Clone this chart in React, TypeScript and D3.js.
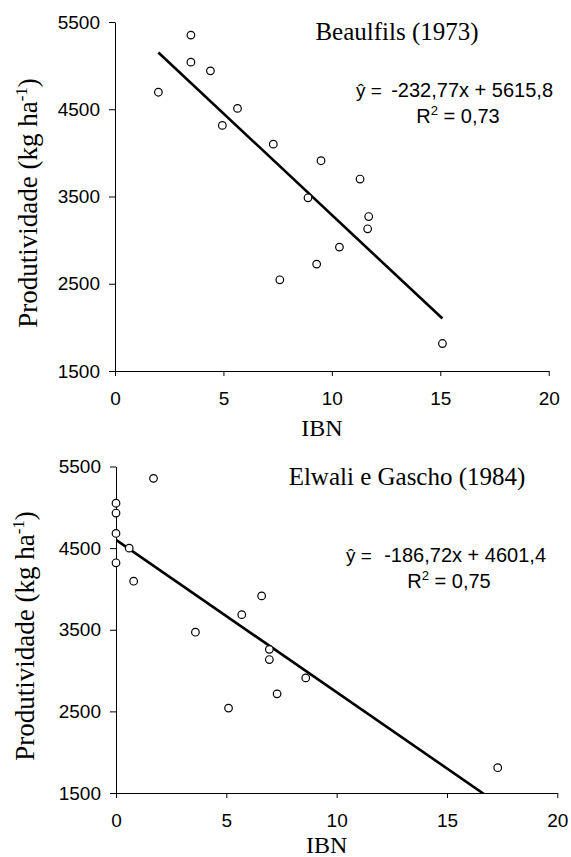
import React, { useEffect, useRef } from 'react';
import * as d3 from 'd3';

// Beaulfils (1973)
const ibnBeaufils = [2.0, 3.5, 3.5, 4.4, 4.95, 5.65, 7.3, 7.6, 8.9, 9.3, 9.5, 10.35, 11.3, 11.65, 11.7, 15.1];
const prodBeaufils = [4695, 5350, 5040, 4940, 4315, 4510, 4100, 2545, 3485, 2725, 3910, 2920, 3700, 3130, 3270, 1815];

// Elwali e Gascho (1984)
const ibnElwali = [0, 0, 0, 0, 0.6, 0.8, 1.7, 3.6, 5.1, 5.7, 6.6, 6.95, 6.95, 7.3, 8.6, 17.3];
const prodElwali = [5050, 4930, 4680, 4320, 4500, 4095, 5355, 3470, 2540, 3685, 3915, 3260, 3135, 2715, 2910, 1810];

const panelTitles = ['Beaulfils (1973)', 'Elwali e Gascho (1984)'];
const slopes = [-232.77, -186.72];
const intercepts = [5615.8, 4601.4];
const eqnLabels = ['-232,77x + 5615,8', '-186,72x + 4601,4'];
const r2Labels = ['0,73', '0,75'];

const xTicks = [0, 5, 10, 15, 20];
const yTicks = [1500, 2500, 3500, 4500, 5500];

const SANS = '"Liberation Sans", Arial, sans-serif';
const SERIF = '"Liberation Serif", "Times New Roman", serif';

// where each panel sits on the page
const layout = [
  { x0: 115, x1: 548.7, yb: 371, yt: 22, titleX: 397, titleY: 40, eqX: 356, eqEnd: 553, eqY: 97, r2X: 458, r2Y: 123, ibnY: 436, ytX: 37, ytY: 203 },
  { x0: 116, x1: 557.3, yb: 793, yt: 466.5, titleX: 407, titleY: 485, eqX: 346, eqEnd: 546, eqY: 562, r2X: 449, r2Y: 588, ibnY: 853, ytX: 34, ytY: 636 },
];

function App() {
  const ref = useRef<SVGSVGElement>(null);

  useEffect(() => {
    const svg = d3.select(ref.current);
    svg.selectAll('*').remove();

    const sets = [
      { xs: ibnBeaufils, ys: prodBeaufils },
      { xs: ibnElwali, ys: prodElwali },
    ];

    sets.forEach((set, i) => {
      const L = layout[i];
      const x = d3.scaleLinear().domain([0, 20]).range([L.x0, L.x1]);
      const y = d3.scaleLinear().domain([1500, 5500]).range([L.yb, L.yt]);
      const g = svg.append('g');

      g.append('clipPath').attr('id', 'clip' + i)
        .append('rect')
        .attr('x', L.x0).attr('y', L.yt - 5)
        .attr('width', L.x1 - L.x0).attr('height', L.yb - L.yt + 5);

      // axes
      const yAxis = d3.axisLeft(y).tickValues(yTicks).tickSize(6).tickSizeOuter(0).tickPadding(9)
        .tickFormat(d3.format('d'));
      const ya = g.append('g').attr('transform', `translate(${L.x0},0)`).call(yAxis);

      const xAxis = d3.axisBottom(x).tickValues(xTicks).tickSize(5).tickSizeOuter(0).tickPadding(16)
        .tickFormat(d3.format('d'));
      const xa = g.append('g').attr('transform', `translate(0,${L.yb})`).call(xAxis);

      [ya, xa].forEach(a => {
        a.selectAll('text').attr('font-family', SANS).attr('font-size', 19).attr('fill', '#000');
        a.selectAll('line').attr('stroke', '#000');
        a.select('.domain').attr('stroke', '#000');
      });

      // regression line
      const xmin = d3.min(set.xs) as number;
      const xmax = d3.max(set.xs) as number;
      const fit = [xmin, xmax].map(v => [v, intercepts[i] + slopes[i] * v]);
      g.append('path')
        .datum(fit)
        .attr('clip-path', `url(#clip${i})`)
        .attr('fill', 'none')
        .attr('stroke', '#000')
        .attr('stroke-width', 2.6)
        .attr('d', d3.line<number[]>().x(d => x(d[0])).y(d => y(d[1])));

      // points
      g.selectAll('circle.pt')
        .data(set.xs.map((v, k) => [v, set.ys[k]]))
        .join('circle')
        .attr('class', 'pt')
        .attr('cx', d => x(d[0]))
        .attr('cy', d => y(d[1]))
        .attr('r', 3.8)
        .attr('fill', '#fff')
        .attr('stroke', '#000')
        .attr('stroke-width', 1.2);

      // title
      g.append('text')
        .attr('x', L.titleX).attr('y', L.titleY)
        .attr('text-anchor', 'middle')
        .attr('font-family', SERIF).attr('font-size', 25)
        .text(panelTitles[i]);

      // equation
      g.append('text')
        .attr('x', L.eqX).attr('y', L.eqY)
        .attr('font-family', SANS).attr('font-size', 19)
        .text('\u0177 =');
      g.append('text')
        .attr('x', L.eqEnd).attr('y', L.eqY)
        .attr('text-anchor', 'end')
        .attr('font-family', SANS).attr('font-size', 20)
        .text(eqnLabels[i]);
      const r2 = g.append('text')
        .attr('x', L.r2X).attr('y', L.r2Y)
        .attr('text-anchor', 'middle')
        .attr('font-family', SANS).attr('font-size', 20);
      r2.append('tspan').text('R');
      r2.append('tspan').attr('dy', -8).attr('font-size', 13).text('2');
      r2.append('tspan').attr('dy', 8).text(' = ' + r2Labels[i]);

      // axis titles
      g.append('text')
        .attr('x', (L.x0 + L.x1) / 2 - 10).attr('y', L.ibnY)
        .attr('text-anchor', 'middle')
        .attr('font-family', SERIF).attr('font-size', 24)
        .text('IBN');

      const yt = g.append('text')
        .attr('transform', `translate(${L.ytX},${L.ytY}) rotate(-90)`)
        .attr('text-anchor', 'middle')
        .attr('font-family', SERIF).attr('font-size', 27);
      yt.append('tspan').text('Produtividade (kg ha');
      yt.append('tspan').attr('dy', -10).attr('font-size', 17).text('-1');
      yt.append('tspan').attr('dy', 10).text(')');
    });
    // eslint-disable-next-line
  }, []);

  return (
    <svg
      ref={ref}
      width={571}
      height={857}
      style={{ position: 'absolute', left: 0, top: 0, background: '#fff' }}
    />
  );
}

export default App;
